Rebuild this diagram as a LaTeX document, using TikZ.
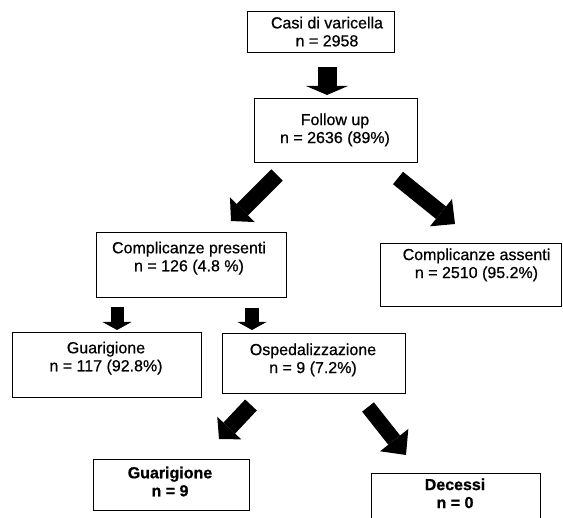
\documentclass[tikz,border=0pt]{standalone}
\usepackage{fontspec}
\setmainfont{Liberation Sans}
\newfontfamily\regfont{Liberation Sans}[FakeBold=0.6]
\newfontfamily\boldfont{Liberation Sans Bold}[FakeBold=0.8]
\usetikzlibrary{arrows.meta}
\begin{document}
\begin{tikzpicture}[x=1pt,y=-1pt,
  box/.style={draw, line width=1.4pt, inner sep=0pt},
  lbl/.style={anchor=north, inner sep=0pt, align=center, font=\regfont\fontsize{16}{18}\selectfont},
  blbl/.style={anchor=north, inner sep=0pt, align=center, font=\boldfont\fontsize{16}{18}\selectfont},
  barrow/.style n args={3}{line width=#1, -{Triangle[width=#2, length=#3, line width=0pt]}}
]
\useasboundingbox (0,0) rectangle (563,518);
\fill[white] (0,0) rectangle (563,518);
\clip (0,0) rectangle (563,518);

% boxes
\node[box, minimum width=147pt, minimum height=41pt, anchor=north west] (b1) at (247,11) {};
\node[box, minimum width=163pt, minimum height=64pt, anchor=north west] (b2) at (254,98) {};
\node[box, minimum width=190pt, minimum height=65pt, anchor=north west] (b3) at (96,232) {};
\node[box, minimum width=181pt, minimum height=63pt, anchor=north west] (b4) at (380,243) {};
\node[box, minimum width=189pt, minimum height=65pt, anchor=north west] (b5) at (12,332) {};
\node[box, minimum width=183pt, minimum height=60pt, anchor=north west] (b6) at (222,333) {};
\node[box, minimum width=156pt, minimum height=51pt, anchor=north west] (b7) at (93,459) {};
\node[box, minimum width=169pt, minimum height=60pt, anchor=north west] (b8) at (371,473) {};

% texts
\node[lbl] (t1) at (327,16.6) {Casi di varicella\\n = 2958};
\node[lbl] (t2) at (335,113.3) {Follow up\\n = 2636 (89\%)};
\node[lbl] (t3) at (189,241.5) {Complicanze presenti\\n = 126 (4.8 \%)};
\node[lbl] (t4) at (476.5,248.3) {Complicanze assenti\\n = 2510 (95.2\%)};
\node[lbl] (t5) at (106,341.5) {Guarigione\\n = 117 (92.8\%)};
\node[lbl] (t6) at (313,343.3) {Ospedalizzazione\\n = 9 (7.2\%)};
\node[blbl] (t7) at (170,466.5) {Guarigione\\n = 9};
\node[blbl] (t8) at (455,478.3) {Decessi\\n = 0};

% arrow ends
\coordinate (a1s) at (327,67);  \coordinate (a1e) at (327,95);
\coordinate (a2s) at (277,175); \coordinate (a2e) at (231,221);
\coordinate (a3s) at (398,178); \coordinate (a3e) at (455,224);
\coordinate (a4s) at (117,307); \coordinate (a4e) at (117,330);
\coordinate (a5s) at (252,308); \coordinate (a5e) at (252,330);
\coordinate (a6s) at (251,405); \coordinate (a6e) at (219,439);
\coordinate (a7s) at (368,407); \coordinate (a7e) at (406,455);

\draw[barrow={19pt}{42pt}{9pt}] (a1s) -- (a1e);
\draw[barrow={16pt}{35pt}{16pt}] (a2s) -- (a2e);
\draw[barrow={16pt}{35pt}{18pt}] (a3s) -- (a3e);
\draw[barrow={13pt}{29pt}{8pt}] (a4s) -- (a4e);
\draw[barrow={14pt}{29pt}{8pt}] (a5s) -- (a5e);
\draw[barrow={16pt}{33pt}{15pt}] (a6s) -- (a6e);
\draw[barrow={15pt}{36pt}{19pt}] (a7s) -- (a7e);
\end{tikzpicture}
\end{document}
